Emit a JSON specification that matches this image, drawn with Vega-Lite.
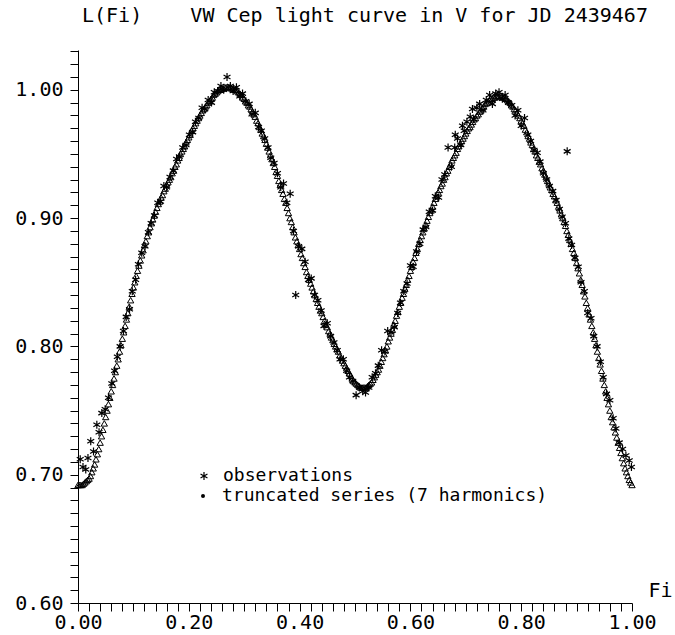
{
  "$schema": "https://vega.github.io/schema/vega-lite/v6.json",
  "autosize": "none",
  "width": 554,
  "height": 553,
  "padding": {"left": 78, "top": 50, "right": 43, "bottom": 32},
  "background": "white",
  "config": {
    "view": {"stroke": null},
    "font": "DejaVu Sans Mono",
    "axis": {
      "grid": false,
      "domainColor": "black",
      "domainWidth": 1,
      "tickColor": "black",
      "tickWidth": 1,
      "tickSize": 8,
      "labelColor": "black",
      "labelFont": "DejaVu Sans Mono",
      "labelFontSize": 20,
      "labelFontWeight": "normal",
      "labelOverlap": false,
      "labelFlush": false,
      "titleFont": "DejaVu Sans Mono",
      "titleFontSize": 20,
      "titleFontWeight": "normal",
      "titleColor": "black"
    },
    "legend": {
      "labelFont": "DejaVu Sans Mono",
      "labelFontSize": 18,
      "labelColor": "black",
      "labelLimit": 500,
      "title": null
    }
  },
  "title": {
    "text": "L(Fi)\u00a0\u00a0\u00a0\u00a0VW Cep light curve in V for JD 2439467",
    "anchor": "start",
    "frame": "group",
    "orient": "top",
    "dx": 4,
    "offset": 5,
    "baseline": "middle",
    "font": "DejaVu Sans Mono",
    "fontSize": 20,
    "fontWeight": "normal",
    "color": "black"
  },
  "datasets": {
    "series": [
      {"p":0.000,"v":0.692},{"p":0.005,"v":0.692},{"p":0.010,"v":0.693},{"p":0.015,"v":0.695},{"p":0.020,"v":0.697},
      {"p":0.025,"v":0.702},{"p":0.030,"v":0.708},{"p":0.035,"v":0.716},{"p":0.040,"v":0.725},{"p":0.045,"v":0.735},
      {"p":0.050,"v":0.745},{"p":0.055,"v":0.755},{"p":0.060,"v":0.765},{"p":0.065,"v":0.775},{"p":0.070,"v":0.785},
      {"p":0.075,"v":0.796},{"p":0.080,"v":0.806},{"p":0.085,"v":0.816},{"p":0.090,"v":0.826},{"p":0.095,"v":0.836},
      {"p":0.100,"v":0.846},{"p":0.105,"v":0.855},{"p":0.110,"v":0.863},{"p":0.115,"v":0.871},{"p":0.120,"v":0.879},
      {"p":0.125,"v":0.886},{"p":0.130,"v":0.893},{"p":0.135,"v":0.899},{"p":0.140,"v":0.905},{"p":0.145,"v":0.911},
      {"p":0.150,"v":0.916},{"p":0.155,"v":0.921},{"p":0.160,"v":0.926},{"p":0.165,"v":0.930},{"p":0.170,"v":0.935},
      {"p":0.175,"v":0.940},{"p":0.180,"v":0.945},{"p":0.185,"v":0.950},{"p":0.190,"v":0.954},{"p":0.195,"v":0.959},
      {"p":0.200,"v":0.963},{"p":0.205,"v":0.968},{"p":0.210,"v":0.972},{"p":0.215,"v":0.976},{"p":0.220,"v":0.980},
      {"p":0.225,"v":0.984},{"p":0.230,"v":0.987},{"p":0.235,"v":0.990},{"p":0.240,"v":0.993},{"p":0.245,"v":0.996},
      {"p":0.250,"v":0.998},{"p":0.255,"v":1.000},{"p":0.260,"v":1.001},{"p":0.265,"v":1.002},{"p":0.270,"v":1.002},
      {"p":0.275,"v":1.002},{"p":0.280,"v":1.001},{"p":0.285,"v":1.000},{"p":0.290,"v":0.998},{"p":0.295,"v":0.996},
      {"p":0.300,"v":0.993},{"p":0.305,"v":0.990},{"p":0.310,"v":0.987},{"p":0.315,"v":0.983},{"p":0.320,"v":0.979},
      {"p":0.325,"v":0.974},{"p":0.330,"v":0.969},{"p":0.335,"v":0.964},{"p":0.340,"v":0.958},{"p":0.345,"v":0.952},
      {"p":0.350,"v":0.946},{"p":0.355,"v":0.940},{"p":0.360,"v":0.933},{"p":0.365,"v":0.926},{"p":0.370,"v":0.919},
      {"p":0.375,"v":0.912},{"p":0.380,"v":0.904},{"p":0.385,"v":0.897},{"p":0.390,"v":0.889},{"p":0.395,"v":0.882},
      {"p":0.400,"v":0.876},{"p":0.405,"v":0.869},{"p":0.410,"v":0.862},{"p":0.415,"v":0.855},{"p":0.420,"v":0.849},
      {"p":0.425,"v":0.843},{"p":0.430,"v":0.837},{"p":0.435,"v":0.831},{"p":0.440,"v":0.826},{"p":0.445,"v":0.820},
      {"p":0.450,"v":0.815},{"p":0.455,"v":0.810},{"p":0.460,"v":0.805},{"p":0.465,"v":0.800},{"p":0.470,"v":0.796},
      {"p":0.475,"v":0.791},{"p":0.480,"v":0.787},{"p":0.485,"v":0.783},{"p":0.490,"v":0.779},{"p":0.495,"v":0.775},
      {"p":0.500,"v":0.772},{"p":0.505,"v":0.770},{"p":0.510,"v":0.768},{"p":0.515,"v":0.768},{"p":0.520,"v":0.768},
      {"p":0.525,"v":0.770},{"p":0.530,"v":0.772},{"p":0.535,"v":0.776},{"p":0.540,"v":0.780},{"p":0.545,"v":0.785},
      {"p":0.550,"v":0.791},{"p":0.555,"v":0.797},{"p":0.560,"v":0.804},{"p":0.565,"v":0.810},{"p":0.570,"v":0.817},
      {"p":0.575,"v":0.824},{"p":0.580,"v":0.831},{"p":0.585,"v":0.838},{"p":0.590,"v":0.845},{"p":0.595,"v":0.852},
      {"p":0.600,"v":0.859},{"p":0.605,"v":0.866},{"p":0.610,"v":0.873},{"p":0.615,"v":0.880},{"p":0.620,"v":0.886},
      {"p":0.625,"v":0.892},{"p":0.630,"v":0.898},{"p":0.635,"v":0.904},{"p":0.640,"v":0.909},{"p":0.645,"v":0.915},
      {"p":0.650,"v":0.920},{"p":0.655,"v":0.925},{"p":0.660,"v":0.930},{"p":0.665,"v":0.935},{"p":0.670,"v":0.940},
      {"p":0.675,"v":0.945},{"p":0.680,"v":0.949},{"p":0.685,"v":0.954},{"p":0.690,"v":0.958},{"p":0.695,"v":0.962},
      {"p":0.700,"v":0.966},{"p":0.705,"v":0.970},{"p":0.710,"v":0.973},{"p":0.715,"v":0.977},{"p":0.720,"v":0.980},
      {"p":0.725,"v":0.983},{"p":0.730,"v":0.986},{"p":0.735,"v":0.989},{"p":0.740,"v":0.991},{"p":0.745,"v":0.993},
      {"p":0.750,"v":0.994},{"p":0.755,"v":0.995},{"p":0.760,"v":0.995},{"p":0.765,"v":0.995},{"p":0.770,"v":0.994},
      {"p":0.775,"v":0.992},{"p":0.780,"v":0.990},{"p":0.785,"v":0.987},{"p":0.790,"v":0.984},{"p":0.795,"v":0.980},
      {"p":0.800,"v":0.976},{"p":0.805,"v":0.972},{"p":0.810,"v":0.967},{"p":0.815,"v":0.962},{"p":0.820,"v":0.957},
      {"p":0.825,"v":0.952},{"p":0.830,"v":0.947},{"p":0.835,"v":0.942},{"p":0.840,"v":0.937},{"p":0.845,"v":0.932},
      {"p":0.850,"v":0.927},{"p":0.855,"v":0.922},{"p":0.860,"v":0.917},{"p":0.865,"v":0.912},{"p":0.870,"v":0.906},
      {"p":0.875,"v":0.900},{"p":0.880,"v":0.894},{"p":0.885,"v":0.887},{"p":0.890,"v":0.880},{"p":0.895,"v":0.873},
      {"p":0.900,"v":0.865},{"p":0.905,"v":0.857},{"p":0.910,"v":0.848},{"p":0.915,"v":0.839},{"p":0.920,"v":0.830},
      {"p":0.925,"v":0.821},{"p":0.930,"v":0.811},{"p":0.935,"v":0.801},{"p":0.940,"v":0.791},{"p":0.945,"v":0.781},
      {"p":0.950,"v":0.770},{"p":0.955,"v":0.760},{"p":0.960,"v":0.750},{"p":0.965,"v":0.741},{"p":0.970,"v":0.733},
      {"p":0.975,"v":0.725},{"p":0.980,"v":0.717},{"p":0.985,"v":0.709},{"p":0.990,"v":0.702},{"p":0.995,"v":0.696},
      {"p":1.000,"v":0.692},
      {"p":0.0025,"v":0.692},{"p":0.0075,"v":0.692},{"p":0.0125,"v":0.694},{"p":0.0175,"v":0.696},{"p":0.0225,"v":0.699},
      {"p":0.0275,"v":0.705},{"p":0.0325,"v":0.712},{"p":0.0375,"v":0.720},{"p":0.0425,"v":0.730},{"p":0.0475,"v":0.740},
      {"p":0.0525,"v":0.750},{"p":0.0575,"v":0.760},{"p":0.0625,"v":0.770},{"p":0.0675,"v":0.780},{"p":0.0725,"v":0.790},
      {"p":0.0775,"v":0.801},{"p":0.0825,"v":0.811},{"p":0.0875,"v":0.821},{"p":0.0925,"v":0.831},{"p":0.0975,"v":0.841},
      {"p":0.1025,"v":0.850},{"p":0.1075,"v":0.859},{"p":0.1125,"v":0.867},{"p":0.1175,"v":0.875},{"p":0.1225,"v":0.882},
      {"p":0.1275,"v":0.889},{"p":0.1325,"v":0.896},{"p":0.1375,"v":0.902},{"p":0.1425,"v":0.908},{"p":0.1475,"v":0.913},
      {"p":0.1525,"v":0.918},{"p":0.1575,"v":0.923},{"p":0.1625,"v":0.928},{"p":0.1675,"v":0.932},{"p":0.1725,"v":0.937},
      {"p":0.1775,"v":0.942},{"p":0.1825,"v":0.947},{"p":0.1875,"v":0.952},{"p":0.1925,"v":0.956},{"p":0.1975,"v":0.961},
      {"p":0.2025,"v":0.965},{"p":0.2075,"v":0.970},{"p":0.2125,"v":0.974},{"p":0.2175,"v":0.978},{"p":0.2225,"v":0.982},
      {"p":0.2275,"v":0.985},{"p":0.2325,"v":0.988},{"p":0.2375,"v":0.991},{"p":0.2425,"v":0.994},{"p":0.2475,"v":0.997},
      {"p":0.2525,"v":0.999},{"p":0.2575,"v":1.000},{"p":0.2625,"v":1.001},{"p":0.2675,"v":1.002},{"p":0.2725,"v":1.002},
      {"p":0.2775,"v":1.001},{"p":0.2825,"v":1.000},{"p":0.2875,"v":0.999},{"p":0.2925,"v":0.997},{"p":0.2975,"v":0.994},
      {"p":0.3025,"v":0.991},{"p":0.3075,"v":0.988},{"p":0.3125,"v":0.985},{"p":0.3175,"v":0.981},{"p":0.3225,"v":0.976},
      {"p":0.3275,"v":0.971},{"p":0.3325,"v":0.966},{"p":0.3375,"v":0.961},{"p":0.3425,"v":0.955},{"p":0.3475,"v":0.949},
      {"p":0.3525,"v":0.943},{"p":0.3575,"v":0.936},{"p":0.3625,"v":0.929},{"p":0.3675,"v":0.922},{"p":0.3725,"v":0.915},
      {"p":0.3775,"v":0.908},{"p":0.3825,"v":0.900},{"p":0.3875,"v":0.893},{"p":0.3925,"v":0.885},{"p":0.3975,"v":0.879},
      {"p":0.4025,"v":0.872},{"p":0.4075,"v":0.865},{"p":0.4125,"v":0.858},{"p":0.4175,"v":0.852},{"p":0.4225,"v":0.846},
      {"p":0.4275,"v":0.840},{"p":0.4325,"v":0.834},{"p":0.4375,"v":0.828},{"p":0.4425,"v":0.823},{"p":0.4475,"v":0.817},
      {"p":0.4525,"v":0.812},{"p":0.4575,"v":0.807},{"p":0.4625,"v":0.802},{"p":0.4675,"v":0.798},{"p":0.4725,"v":0.793},
      {"p":0.4775,"v":0.789},{"p":0.4825,"v":0.785},{"p":0.4875,"v":0.781},{"p":0.4925,"v":0.777},{"p":0.4975,"v":0.773},
      {"p":0.5025,"v":0.771},{"p":0.5075,"v":0.769},{"p":0.5125,"v":0.768},{"p":0.5175,"v":0.768},{"p":0.5225,"v":0.769},
      {"p":0.5275,"v":0.771},{"p":0.5325,"v":0.774},{"p":0.5375,"v":0.778},{"p":0.5425,"v":0.782},{"p":0.5475,"v":0.788},
      {"p":0.5525,"v":0.794},{"p":0.5575,"v":0.800},{"p":0.5625,"v":0.807},{"p":0.5675,"v":0.813},{"p":0.5725,"v":0.820},
      {"p":0.5775,"v":0.827},{"p":0.5825,"v":0.834},{"p":0.5875,"v":0.841},{"p":0.5925,"v":0.848},{"p":0.5975,"v":0.855},
      {"p":0.6025,"v":0.862},{"p":0.6075,"v":0.869},{"p":0.6125,"v":0.876},{"p":0.6175,"v":0.883},{"p":0.6225,"v":0.889},
      {"p":0.6275,"v":0.895},{"p":0.6325,"v":0.901},{"p":0.6375,"v":0.906},{"p":0.6425,"v":0.912},{"p":0.6475,"v":0.917},
      {"p":0.6525,"v":0.922},{"p":0.6575,"v":0.927},{"p":0.6625,"v":0.932},{"p":0.6675,"v":0.937},{"p":0.6725,"v":0.942},
      {"p":0.6775,"v":0.947},{"p":0.6825,"v":0.951},{"p":0.6875,"v":0.956},{"p":0.6925,"v":0.960},{"p":0.6975,"v":0.964},
      {"p":0.7025,"v":0.968},{"p":0.7075,"v":0.971},{"p":0.7125,"v":0.975},{"p":0.7175,"v":0.978},{"p":0.7225,"v":0.981},
      {"p":0.7275,"v":0.984},{"p":0.7325,"v":0.987},{"p":0.7375,"v":0.990},{"p":0.7425,"v":0.992},{"p":0.7475,"v":0.993},
      {"p":0.7525,"v":0.994},{"p":0.7575,"v":0.995},{"p":0.7625,"v":0.995},{"p":0.7675,"v":0.994},{"p":0.7725,"v":0.993},
      {"p":0.7775,"v":0.991},{"p":0.7825,"v":0.988},{"p":0.7875,"v":0.985},{"p":0.7925,"v":0.982},{"p":0.7975,"v":0.978},
      {"p":0.8025,"v":0.974},{"p":0.8075,"v":0.969},{"p":0.8125,"v":0.964},{"p":0.8175,"v":0.959},{"p":0.8225,"v":0.954},
      {"p":0.8275,"v":0.949},{"p":0.8325,"v":0.944},{"p":0.8375,"v":0.939},{"p":0.8425,"v":0.934},{"p":0.8475,"v":0.929},
      {"p":0.8525,"v":0.924},{"p":0.8575,"v":0.919},{"p":0.8625,"v":0.914},{"p":0.8675,"v":0.909},{"p":0.8725,"v":0.903},
      {"p":0.8775,"v":0.897},{"p":0.8825,"v":0.890},{"p":0.8875,"v":0.883},{"p":0.8925,"v":0.876},{"p":0.8975,"v":0.869},
      {"p":0.9025,"v":0.861},{"p":0.9075,"v":0.852},{"p":0.9125,"v":0.843},{"p":0.9175,"v":0.834},{"p":0.9225,"v":0.825},
      {"p":0.9275,"v":0.816},{"p":0.9325,"v":0.806},{"p":0.9375,"v":0.796},{"p":0.9425,"v":0.786},{"p":0.9475,"v":0.775},
      {"p":0.9525,"v":0.765},{"p":0.9575,"v":0.755},{"p":0.9625,"v":0.745},{"p":0.9675,"v":0.737},{"p":0.9725,"v":0.729},
      {"p":0.9775,"v":0.721},{"p":0.9825,"v":0.713},{"p":0.9875,"v":0.705},{"p":0.9925,"v":0.699},{"p":0.9975,"v":0.694}
    ],
    "obs": [
      {"p":0.004,"v":0.712},{"p":0.009,"v":0.706},{"p":0.014,"v":0.704},{"p":0.018,"v":0.713},{"p":0.023,"v":0.726},
      {"p":0.028,"v":0.718},{"p":0.034,"v":0.739},{"p":0.038,"v":0.733},{"p":0.043,"v":0.748},{"p":0.049,"v":0.751},
      {"p":0.055,"v":0.760},{"p":0.061,"v":0.771},{"p":0.066,"v":0.781},{"p":0.071,"v":0.792},{"p":0.076,"v":0.800},
      {"p":0.082,"v":0.812},{"p":0.087,"v":0.823},{"p":0.093,"v":0.829},{"p":0.098,"v":0.843},{"p":0.104,"v":0.852},
      {"p":0.109,"v":0.864},{"p":0.115,"v":0.873},{"p":0.121,"v":0.878},{"p":0.127,"v":0.889},{"p":0.132,"v":0.896},
      {"p":0.138,"v":0.902},{"p":0.144,"v":0.912},{"p":0.149,"v":0.913},{"p":0.155,"v":0.925},{"p":0.160,"v":0.924},
      {"p":0.166,"v":0.932},{"p":0.172,"v":0.937},{"p":0.178,"v":0.946},{"p":0.183,"v":0.948},{"p":0.189,"v":0.955},
      {"p":0.195,"v":0.957},{"p":0.201,"v":0.965},{"p":0.207,"v":0.967},{"p":0.212,"v":0.975},{"p":0.218,"v":0.978},
      {"p":0.224,"v":0.986},{"p":0.229,"v":0.985},{"p":0.235,"v":0.992},{"p":0.241,"v":0.990},{"p":0.246,"v":0.998},
      {"p":0.252,"v":0.999},{"p":0.258,"v":1.003},{"p":0.263,"v":1.000},{"p":0.269,"v":1.010},{"p":0.275,"v":1.003},
      {"p":0.280,"v":0.999},{"p":0.286,"v":1.002},{"p":0.292,"v":0.995},{"p":0.297,"v":0.997},{"p":0.303,"v":0.991},
      {"p":0.309,"v":0.989},{"p":0.314,"v":0.981},{"p":0.320,"v":0.982},{"p":0.326,"v":0.971},{"p":0.331,"v":0.968},
      {"p":0.337,"v":0.962},{"p":0.343,"v":0.955},{"p":0.348,"v":0.947},{"p":0.354,"v":0.943},{"p":0.360,"v":0.935},
      {"p":0.366,"v":0.924},{"p":0.371,"v":0.927},{"p":0.377,"v":0.912},{"p":0.383,"v":0.919},{"p":0.389,"v":0.890},
      {"p":0.393,"v":0.840},{"p":0.398,"v":0.878},{"p":0.404,"v":0.876},{"p":0.410,"v":0.866},{"p":0.416,"v":0.852},
      {"p":0.421,"v":0.853},{"p":0.427,"v":0.840},{"p":0.433,"v":0.836},{"p":0.439,"v":0.828},{"p":0.444,"v":0.816},
      {"p":0.450,"v":0.818},{"p":0.456,"v":0.808},{"p":0.462,"v":0.803},{"p":0.468,"v":0.797},{"p":0.473,"v":0.790},
      {"p":0.479,"v":0.790},{"p":0.485,"v":0.781},{"p":0.490,"v":0.776},{"p":0.496,"v":0.773},{"p":0.502,"v":0.762},
      {"p":0.508,"v":0.768},{"p":0.514,"v":0.765},{"p":0.519,"v":0.764},{"p":0.525,"v":0.768},{"p":0.531,"v":0.776},
      {"p":0.537,"v":0.779},{"p":0.542,"v":0.785},{"p":0.548,"v":0.797},{"p":0.554,"v":0.796},{"p":0.559,"v":0.812},
      {"p":0.565,"v":0.811},{"p":0.571,"v":0.815},{"p":0.577,"v":0.826},{"p":0.582,"v":0.834},{"p":0.588,"v":0.843},
      {"p":0.594,"v":0.849},{"p":0.600,"v":0.863},{"p":0.605,"v":0.862},{"p":0.611,"v":0.874},{"p":0.617,"v":0.880},
      {"p":0.623,"v":0.891},{"p":0.628,"v":0.893},{"p":0.634,"v":0.905},{"p":0.640,"v":0.906},{"p":0.645,"v":0.917},
      {"p":0.651,"v":0.916},{"p":0.657,"v":0.930},{"p":0.662,"v":0.934},{"p":0.668,"v":0.955},{"p":0.674,"v":0.940},
      {"p":0.680,"v":0.955},{"p":0.681,"v":0.965},{"p":0.685,"v":0.962},{"p":0.691,"v":0.957},{"p":0.694,"v":0.972},
      {"p":0.697,"v":0.968},{"p":0.702,"v":0.975},{"p":0.708,"v":0.979},{"p":0.712,"v":0.985},{"p":0.714,"v":0.977},
      {"p":0.720,"v":0.986},{"p":0.725,"v":0.989},{"p":0.731,"v":0.984},{"p":0.737,"v":0.992},{"p":0.743,"v":0.996},
      {"p":0.748,"v":0.989},{"p":0.754,"v":0.997},{"p":0.760,"v":0.998},{"p":0.766,"v":0.993},{"p":0.771,"v":0.996},
      {"p":0.777,"v":0.990},{"p":0.783,"v":0.988},{"p":0.789,"v":0.980},{"p":0.794,"v":0.984},{"p":0.800,"v":0.972},
      {"p":0.806,"v":0.978},{"p":0.812,"v":0.965},{"p":0.817,"v":0.960},{"p":0.823,"v":0.953},{"p":0.829,"v":0.951},
      {"p":0.834,"v":0.944},{"p":0.840,"v":0.935},{"p":0.846,"v":0.930},{"p":0.851,"v":0.925},{"p":0.857,"v":0.921},
      {"p":0.863,"v":0.914},{"p":0.869,"v":0.907},{"p":0.874,"v":0.901},{"p":0.880,"v":0.896},{"p":0.883,"v":0.952},
      {"p":0.886,"v":0.884},{"p":0.891,"v":0.879},{"p":0.897,"v":0.869},{"p":0.903,"v":0.862},{"p":0.908,"v":0.850},
      {"p":0.914,"v":0.843},{"p":0.920,"v":0.826},{"p":0.926,"v":0.822},{"p":0.931,"v":0.808},{"p":0.937,"v":0.800},
      {"p":0.943,"v":0.788},{"p":0.948,"v":0.776},{"p":0.954,"v":0.763},{"p":0.960,"v":0.758},{"p":0.966,"v":0.744},
      {"p":0.971,"v":0.736},{"p":0.977,"v":0.725},{"p":0.983,"v":0.720},{"p":0.989,"v":0.715},{"p":0.995,"v":0.711},
      {"p":0.999,"v":0.706}
    ]
  },
  "encoding": {
    "x": {
      "field": "p", "type": "quantitative",
      "scale": {"domain": [0, 1], "nice": false, "zero": false},
      "axis": {
        "values": [0,0.02,0.04,0.06,0.08,0.1,0.12,0.14,0.16,0.18,0.2,0.22,0.24,0.26,0.28,0.3,0.32,0.34,0.36,0.38,0.4,0.42,0.44,0.46,0.48,0.5,0.52,0.54,0.56,0.58,0.6,0.62,0.64,0.66,0.68,0.7,0.72,0.74,0.76,0.78,0.8,0.82,0.84,0.86,0.88,0.9,0.92,0.94,0.96,0.98,1],
        "labelExpr": "round(datum.value*100) % 20 == 0 ? format(datum.value, '.2f') : ''",
        "labelPadding": 1,
        "title": "Fi",
        "titleX": 570,
        "titleY": -13,
        "titleAlign": "left",
        "titleBaseline": "middle",
        "titleAngle": 0
      }
    },
    "y": {
      "field": "v", "type": "quantitative",
      "scale": {"domain": [0.6, 1.031], "nice": false, "zero": false},
      "axis": {
        "values": [0.6,0.61,0.62,0.63,0.64,0.65,0.66,0.67,0.68,0.69,0.7,0.71,0.72,0.73,0.74,0.75,0.76,0.77,0.78,0.79,0.8,0.81,0.82,0.83,0.84,0.85,0.86,0.87,0.88,0.89,0.9,0.91,0.92,0.93,0.94,0.95,0.96,0.97,0.98,0.99,1.0,1.01,1.02,1.03],
        "labelExpr": "round(datum.value*100) % 10 == 0 ? format(datum.value, '.2f') : ''",
        "labelPadding": 7,
        "title": null
      }
    }
  },
  "layer": [
    {
      "data": {"name": "obs"},
      "mark": {"type": "point", "filled": false, "stroke": "black", "strokeWidth": 1.2, "size": 64, "opacity": 1},
      "encoding": {
        "shape": {
          "datum": "observations",
          "scale": {"domain": ["observations"], "range": ["M0,-1L0,1M-0.866,-0.5L0.866,0.5M-0.866,0.5L0.866,-0.5"]},
          "legend": {
            "orient": "none",
            "legendX": 117,
            "legendY": 417,
            "labelOffset": 10,
            "symbolSize": 64,
            "symbolStrokeColor": "black",
            "symbolStrokeWidth": 1.2
          }
        }
      }
    },
    {
      "data": {"name": "series"},
      "mark": {"type": "point", "shape": "triangle-up", "filled": false, "strokeWidth": 1, "size": 40, "opacity": 1},
      "encoding": {
        "color": {
          "datum": "truncated series (7 harmonics)",
          "scale": {"domain": ["truncated series (7 harmonics)"], "range": ["black"]},
          "legend": {
            "orient": "none",
            "legendX": 116,
            "legendY": 437,
            "labelOffset": 10,
            "symbolType": "circle",
            "symbolSize": 4,
            "symbolFillColor": "black",
            "symbolStrokeColor": "black",
            "symbolStrokeWidth": 2,
            "encode": {
              "symbols": {
                "update": {
                  "fill": {"value": "black"},
                  "stroke": {"value": "black"}
                }
              }
            }
          }
        }
      }
    }
  ]
}
